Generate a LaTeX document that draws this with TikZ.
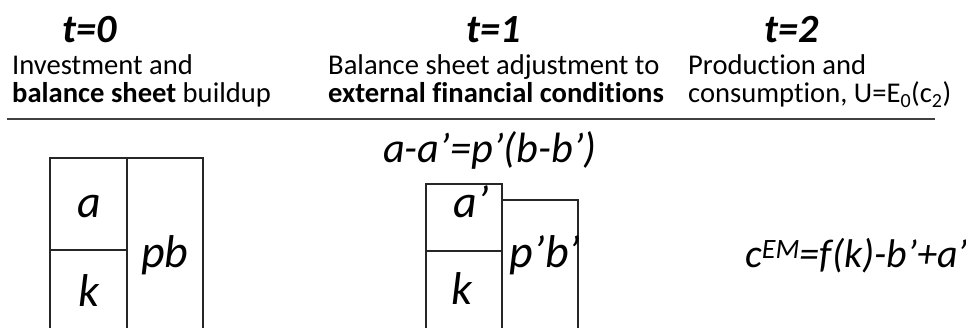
\documentclass[tikz,border=0pt]{standalone}
\usepackage{fontspec}
\setmainfont{Carlito}[Ligatures=NoCommon]
\usepackage{tikz}

\tikzset{
  titol/.style={anchor=base, inner sep=0pt, font=\fontsize{40}{44}\selectfont\bfseries\itshape},
  textcol/.style={anchor=base west, inner sep=0pt, font=\fontsize{28.6}{30}\selectfont},
  formula/.style={anchor=base west, inner sep=0pt, font=\fontsize{42.4}{46}\selectfont\itshape},
  lletra/.style={anchor=base, inner sep=0pt, font=\fontsize{46}{50}\selectfont\itshape},
  caixa/.style={draw=black!85, line width=1.4pt}
}

\begin{document}
\begin{tikzpicture}[x=1pt, y=-1pt]
    % MARC DE LA IMATGE
    \clip (0,0) rectangle (966,328);

    % TITOLS DELS PERIODES
    \node[titol] (t0) at (90,43) {t=0};
    \node[titol] (t1) at (494,43) {t=1};
    \node[titol] (t2) at (792,43) {t=2};

    % DESCRIPCIONS
    \node[textcol] (d0a) at (12,75) {Investment and};
    \node[textcol] (d0b) at (12,103) {\textbf{balance sheet} buildup};
    \node[textcol] (d1a) at (328,75) {Balance sheet adjustment to};
    \node[textcol] (d1b) at (328,103) {\textbf{external financial conditions}};
    \node[textcol] (d2a) at (688,75) {Production and};
    \node[textcol] (d2b) at (688,103) {consumption, U=E\textsubscript{0}(c\textsubscript{2})};

    % LINIA HORITZONTAL
    \draw[line width=1.4pt, black!75] (7,119) -- (935,119);

    % BALANC A t=0
    \draw[caixa] (50,158) rectangle (127,360);
    \draw[caixa] (50,250) -- (127,250);
    \draw[caixa] (127,158) rectangle (203,360);
    \node[lletra] (a0) at (89,218) {a};
    \node[lletra] (k0) at (89,307) {k};
    \node[lletra] (pb0) at (165,268) {pb};

    % BALANC A t=1
    \node[formula] (eq1) at (383,163) {a-a’=p’(b-b’)};
    \draw[caixa] (426,184) rectangle (502,360);
    \draw[caixa] (426,251) -- (502,251);
    \draw[caixa] (502,200) rectangle (578,360);
    \node[lletra] (a1) at (471,218) {a’};
    \node[lletra] (k1) at (462,305) {k};
    \node[lletra] (pb1) at (545,268) {p’b’};

    % CONSUM A t=2
    \node[formula, font=\fontsize{40}{44}\selectfont\itshape] (eq2) at (745,268) {c\textsuperscript{EM}=f(k)-b’+a’};
\end{tikzpicture}
\end{document}
